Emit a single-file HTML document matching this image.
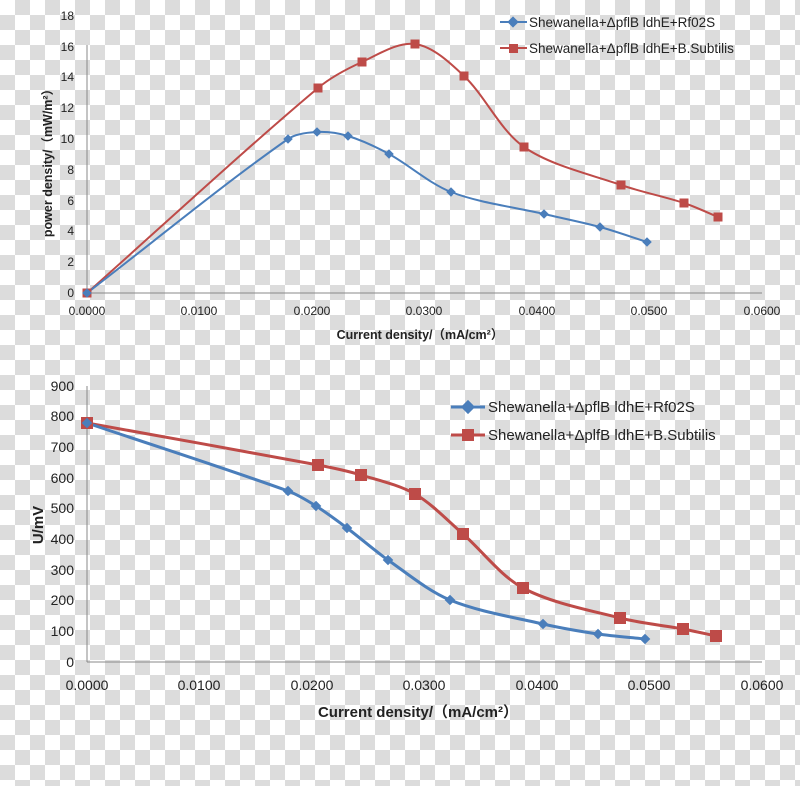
<!DOCTYPE html>
<html><head><meta charset="utf-8"><style>
html,body{margin:0;padding:0}
body{width:800px;height:786px;overflow:hidden;background:repeating-conic-gradient(#dcdcdc 0 25%,#fff 0 50%) 0 0/30px 30px;}
svg{position:absolute;left:0;top:0}
text{font-family:"Liberation Sans","Noto Sans CJK SC",sans-serif;fill:#222}
</style></head><body>
<svg id="s" width="800" height="786" xmlns="http://www.w3.org/2000/svg">
<line x1="87" y1="45" x2="87" y2="293" stroke="#888" stroke-width="1"/>
<line x1="87" y1="293" x2="762" y2="293" stroke="#888" stroke-width="1"/>
<g font-size="12" text-anchor="end">
<text x="74" y="297">0</text><text x="74" y="266">2</text><text x="74" y="235">4</text><text x="74" y="205">6</text><text x="74" y="174">8</text><text x="74" y="143">10</text><text x="74" y="112">12</text><text x="74" y="81">14</text><text x="74" y="51">16</text><text x="74" y="20">18</text>
</g>
<g font-size="12" text-anchor="middle">
<text x="87" y="315">0.0000</text><text x="199" y="315">0.0100</text><text x="312" y="315">0.0200</text><text x="424" y="315">0.0300</text><text x="537" y="315">0.0400</text><text x="649" y="315">0.0500</text><text x="762" y="315">0.0600</text>
</g>
<text x="420" y="339" font-size="12.5" font-weight="bold" text-anchor="middle">Current density/（mA/cm²）</text>
<text transform="translate(52,160) rotate(-90)" font-size="12.5" font-weight="bold" text-anchor="middle">power density/（mW/m²）</text>
<line x1="500" y1="22" x2="527" y2="22" stroke="#4a7ebb" stroke-width="2"/>
<rect x="509" y="18" width="8" height="8" fill="#4a7ebb" transform="rotate(45 513 22)"/>
<text x="529" y="27" font-size="13.5">Shewanella+ΔpflB ldhE+Rf02S</text>
<line x1="500" y1="48" x2="527" y2="48" stroke="#be4b48" stroke-width="2"/>
<rect x="509" y="44" width="9" height="9" fill="#be4b48"/>
<text x="529" y="53" font-size="13.5">Shewanella+ΔpflB ldhE+B.Subtilis</text>

<line x1="87" y1="386" x2="87" y2="662" stroke="#888" stroke-width="1"/>
<line x1="87" y1="662" x2="762" y2="662" stroke="#888" stroke-width="1"/>
<g font-size="14" text-anchor="end">
<text x="74" y="667">0</text><text x="74" y="636">100</text><text x="74" y="605">200</text><text x="74" y="575">300</text><text x="74" y="544">400</text><text x="74" y="513">500</text><text x="74" y="483">600</text><text x="74" y="452">700</text><text x="74" y="421">800</text><text x="74" y="391">900</text>
</g>
<g font-size="14" text-anchor="middle">
<text x="87" y="690">0.0000</text><text x="199" y="690">0.0100</text><text x="312" y="690">0.0200</text><text x="424" y="690">0.0300</text><text x="537" y="690">0.0400</text><text x="649" y="690">0.0500</text><text x="762" y="690">0.0600</text>
</g>
<text x="418" y="717" font-size="15" font-weight="bold" text-anchor="middle">Current density/（mA/cm²）</text>
<text transform="translate(43,525) rotate(-90)" font-size="15" font-weight="bold" text-anchor="middle">U/mV</text>
<line x1="451" y1="407" x2="485" y2="407" stroke="#4a7ebb" stroke-width="3"/>
<rect x="463" y="402" width="10" height="10" fill="#4a7ebb" transform="rotate(45 468 407)"/>
<text x="488" y="412" font-size="15">Shewanella+ΔpflB ldhE+Rf02S</text>
<line x1="451" y1="435" x2="485" y2="435" stroke="#be4b48" stroke-width="3"/>
<rect x="462" y="429" width="12" height="12" fill="#be4b48"/>
<text x="488" y="440" font-size="15">Shewanella+ΔplfB ldhE+B.Subtilis</text>
<g id="series"></g>
</svg>
<script>
function cr(p){let d="M"+p[0][0]+","+p[0][1];
function tan(i){const a=p[i-1]||p[i],b=p[i+1]||p[i];const la=Math.hypot(p[i][0]-a[0],p[i][1]-a[1]),lb=Math.hypot(b[0]-p[i][0],b[1]-p[i][1]);const L=Math.hypot(b[0]-a[0],b[1]-a[1])||1;return [(b[0]-a[0])/L,(b[1]-a[1])/L,la,lb];}
for(let i=0;i<p.length-1;i++){const t1=tan(i),t2=tan(i+1);const seg=Math.hypot(p[i+1][0]-p[i][0],p[i+1][1]-p[i][1]);const k=seg/3.2;
d+=" C"+(p[i][0]+t1[0]*k)+","+(p[i][1]+t1[1]*k)+" "+(p[i+1][0]-t2[0]*k)+","+(p[i+1][1]-t2[1]*k)+" "+p[i+1][0]+","+p[i+1][1];}return d;}
const S=[
{c:"#be4b48",w:2,m:"sq",r:4.5,p:[[87,293],[318,88],[362,62],[415,44],[464,76],[524,147],[621,185],[684,203],[718,217]]},
{c:"#4a7ebb",w:2,m:"di",r:4.5,p:[[87,293],[288,139],[317,132],[348,136],[389,154],[451,192],[544,214],[600,227],[647,242]]},
{c:"#be4b48",w:3,m:"sq",r:6,p:[[87,423],[318,465],[361,475],[415,494],[463,534],[523,588],[620,618],[683,629],[716,636]]},
{c:"#4a7ebb",w:3,m:"di",r:5,p:[[87,423],[288,491],[316,506],[347,528],[388,560],[450,600],[543,624],[598,634],[645,639]]}];
let h="";
for(const s of S){h+=`<path d="${cr(s.p)}" fill="none" stroke="${s.c}" stroke-width="${s.w}"/>`;}
for(const s of S){for(const q of s.p){if(s.m=="sq")h+=`<rect x="${q[0]-s.r}" y="${q[1]-s.r}" width="${2*s.r}" height="${2*s.r}" fill="${s.c}"/>`;else h+=`<rect x="${q[0]-s.r*0.75}" y="${q[1]-s.r*0.75}" width="${1.5*s.r}" height="${1.5*s.r}" fill="${s.c}" transform="rotate(45 ${q[0]} ${q[1]})"/>`;}}
document.getElementById("series").innerHTML=h;
</script>
</body></html>
